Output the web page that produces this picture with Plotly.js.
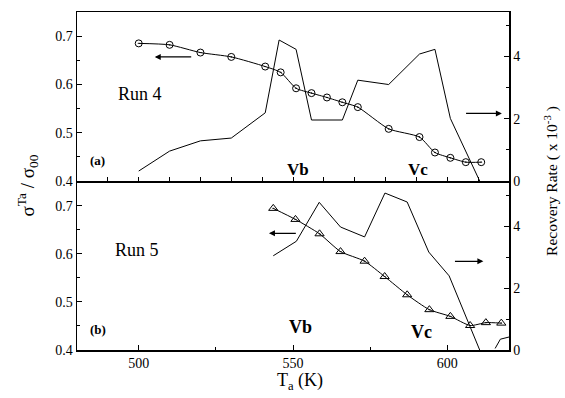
<!DOCTYPE html>
<html><head><meta charset="utf-8">
<script src="https://cdn.plot.ly/plotly-3.0.1.min.js"></script>
<style>html,body{margin:0;padding:0;background:#fff}#chart{width:565px;height:398px}</style>
</head><body><div id="chart"></div>
<script>
// Run 4 (panel a): normalized conductivity sigma^Ta/sigma_00
const run4T = [500, 510, 520, 530, 541, 546, 551, 556, 561, 566, 571, 581, 591, 596, 601, 606, 611];
const run4Sigma = [0.685, 0.682, 0.666, 0.657, 0.637, 0.625, 0.592, 0.582, 0.573, 0.563, 0.553, 0.508, 0.491, 0.459, 0.448, 0.439, 0.439];
// Run 4 recovery rate (x 1e-3)
const run4RateT = [500, 510, 520, 530, 541, 545.5, 551, 556, 566, 571, 581, 591, 596, 601, 610.5];
const run4Rate = [0.32, 0.96, 1.29, 1.38, 2.19, 4.53, 4.23, 1.96, 1.96, 3.24, 3.10, 4.08, 4.23, 2.01, 0];
// Run 5 (panel b)
const run5T = [543.6, 550.8, 558.6, 565.4, 573.2, 579.7, 587, 594.2, 601, 607.4, 612.5, 617.5];
const run5Sigma = [0.695, 0.672, 0.642, 0.605, 0.585, 0.553, 0.515, 0.484, 0.470, 0.451, 0.457, 0.456];
const run5RateT = [543.6, 551.1, 558.5, 565.4, 573.2, 579.8, 587, 594, 600.6, 610.5, null, 615.5, 617.2, 620.4];
const run5Rate = [3.05, 3.52, 4.78, 3.98, 3.66, 5.08, 4.79, 3.17, 2.40, 0, null, 0.05, 0.35, 0.43];
const xTicks = [500, 550, 600];

const serif = 'Liberation Serif';
const blk = '#000';

const traces = [
  {x: run4T, y: run4Sigma, xaxis: 'x2', yaxis: 'y3', mode: 'lines+markers',
   line: {color: blk, width: 1, shape: 'spline', smoothing: 0.6},
   marker: {symbol: 'circle-open-dot', size: 7, color: blk, line: {width: 1, color: blk}}},
  {x: run4RateT, y: run4Rate, xaxis: 'x2', yaxis: 'y4', mode: 'lines',
   line: {color: blk, width: 1}},
  {x: run5T, y: run5Sigma, xaxis: 'x', yaxis: 'y', mode: 'lines+markers',
   line: {color: blk, width: 1, shape: 'spline', smoothing: 0.6},
   marker: {symbol: 'triangle-up-open-dot', size: 8, color: blk, line: {width: 1, color: blk}}},
  {x: run5RateT, y: run5Rate, xaxis: 'x', yaxis: 'y2', mode: 'lines', connectgaps: false,
   line: {color: blk, width: 1}}
];

const axBase = {showgrid: false, zeroline: false, showline: true, linecolor: blk, linewidth: 1.5,
  ticks: 'inside', ticklen: 5, tickcolor: blk, tickfont: {family: serif, size: 14, color: blk}};

const arrow = (x, y, ax, ay, xr, yr) => ({x: x, y: y, ax: ax, ay: ay, xref: xr, yref: yr, axref: xr, ayref: yr,
  showarrow: true, arrowhead: 2, arrowsize: 1, arrowwidth: 1.2, arrowcolor: blk, text: ''});
const txt = (t, x, y, xr, yr, size, bold) => ({text: bold ? '<b>' + t + '</b>' : t, x: x, y: y, xref: xr, yref: yr,
  showarrow: false, font: {family: serif, size: size, color: blk}, xanchor: 'center', yanchor: 'middle'});

const layout = {
  width: 565, height: 398,
  margin: {l: 77, r: 56, t: 12, b: 48},
  paper_bgcolor: '#fff', plot_bgcolor: '#fff',
  showlegend: false,
  font: {family: serif, color: blk},
  xaxis: Object.assign({}, axBase, {anchor: 'y', range: [480, 620], tickvals: xTicks, mirror: false,
    minor: {dtick: 25, ticklen: 3, tickcolor: blk, ticks: 'inside'}}),
  xaxis2: Object.assign({}, axBase, {anchor: 'y3', range: [480, 620], matches: 'x', showticklabels: false,
    dtick: 10, ticklen: 4, mirror: true}),
  yaxis: Object.assign({}, axBase, {domain: [0, 0.5], range: [0.4, 0.752], dtick: 0.1, anchor: 'x',
    tickformat: '.1f', minor: {dtick: 0.05, ticklen: 3, tickcolor: blk, ticks: 'inside'}}),
  yaxis2: Object.assign({}, axBase, {overlaying: 'y', side: 'right', anchor: 'x', range: [0, 5.47], dtick: 2,
    minor: {dtick: 1, ticklen: 3, tickcolor: blk, ticks: 'inside'}}),
  yaxis3: Object.assign({}, axBase, {domain: [0.5, 1], range: [0.4, 0.75], dtick: 0.1, anchor: 'x2',
    tickformat: '.1f', minor: {dtick: 0.05, ticklen: 3, tickcolor: blk, ticks: 'inside'}}),
  yaxis4: Object.assign({}, axBase, {overlaying: 'y3', side: 'right', anchor: 'x2', range: [0, 5.43], dtick: 2,
    minor: {dtick: 1, ticklen: 3, tickcolor: blk, ticks: 'inside'}}),
  annotations: [
    arrow(505.2, 0.657, 517.5, 0.657, 'x2', 'y3'),
    arrow(617.7, 2.17, 605.6, 2.17, 'x2', 'y4'),
    arrow(542.2, 0.643, 551.4, 0.643, 'x', 'y'),
    arrow(611.7, 2.87, 602, 2.87, 'x', 'y2'),
    txt('Run 4', 500.5, 0.581, 'x2', 'y3', 18, false),
    txt('Run 5', 499.5, 0.608, 'x', 'y', 18, false),
    txt('(a)', 486.6, 0.443, 'x2', 'y3', 13, true),
    txt('(b)', 486.8, 0.443, 'x', 'y', 13, true),
    txt('Vb', 551.5, 0.423, 'x2', 'y3', 17, true),
    txt('Vc', 590.5, 0.423, 'x2', 'y3', 17, true),
    txt('Vb', 552.5, 0.448, 'x', 'y', 18, true),
    txt('Vc', 591.5, 0.437, 'x', 'y', 18, true),
    {text: 'σ<sup>Ta</sup> / σ<sub>00</sub>', textangle: -90, x: -0.115, y: 0.488, xref: 'paper', yref: 'paper',
     showarrow: false, xanchor: 'center', yanchor: 'middle', font: {family: serif, size: 19, color: blk}},
    {text: 'Recovery Rate ( x 10<sup>-3</sup> )', textangle: -90, x: 1.097, y: 0.5, xref: 'paper', yref: 'paper',
     showarrow: false, xanchor: 'center', yanchor: 'middle', font: {family: serif, size: 15.5, color: blk}},
    {text: 'T<sub>a</sub> (K)', x: 0.516, y: -0.094, xref: 'paper', yref: 'paper',
     showarrow: false, xanchor: 'center', yanchor: 'middle', font: {family: serif, size: 18, color: blk}}
  ]
};

Plotly.newPlot('chart', traces, layout, {staticPlot: true, displayModeBar: false});
</script>
</body></html>
